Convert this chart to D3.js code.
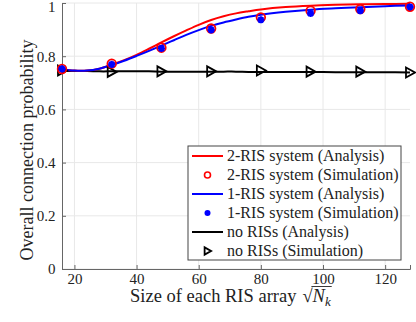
<!DOCTYPE html>
<html>
<head>
<meta charset="utf-8">
<script src="https://cdn.jsdelivr.net/npm/d3@7"></script>
<style>
  body { margin: 0; background: #fff; }
  svg text { fill: #222; }
</style>
</head>
<body>
<div id="chart"></div>
<script>
// analysis curves (sampled along x)
var xAna = [16, 20, 24, 28, 32, 36, 40, 44, 48, 52, 56, 60, 64, 68, 72, 76, 80, 88, 96, 104, 112, 120, 128]
var twoRisAna = [0.751, 0.746, 0.746, 0.753, 0.768, 0.785, 0.805, 0.828, 0.852, 0.875, 0.897, 0.918, 0.936, 0.950, 0.961, 0.969, 0.976, 0.985, 0.990, 0.993, 0.995, 0.996, 0.997]
var oneRisAna = [0.751, 0.746, 0.746, 0.753, 0.767, 0.783, 0.801, 0.820, 0.840, 0.860, 0.880, 0.898, 0.914, 0.927, 0.938, 0.948, 0.956, 0.967, 0.975, 0.980, 0.984, 0.988, 0.991]
var noRisAna = [0.744, 0.744, 0.744, 0.743, 0.743, 0.743, 0.743, 0.743, 0.742, 0.742, 0.742, 0.742, 0.742, 0.742, 0.742, 0.741, 0.741, 0.741, 0.741, 0.740, 0.740, 0.740, 0.739]

// simulation points
var xSim = [16, 32, 48, 64, 80, 96, 112, 128]
var twoRisSim = [0.752, 0.772, 0.832, 0.904, 0.946, 0.971, 0.977, 0.986]
var oneRisSim = [0.752, 0.769, 0.829, 0.899, 0.937, 0.961, 0.971, 0.985]
var noRisSim = [0.746, 0.741, 0.743, 0.743, 0.746, 0.742, 0.742, 0.739]

var xTicks = [20, 40, 60, 80, 100, 120]
var yTicks = [0, 0.2, 0.4, 0.6, 0.8, 1]

var legendLabels = ["2-RIS system (Analysis)", "2-RIS system (Simulation)", "1-RIS system (Analysis)",
  "1-RIS system (Simulation)", "no RISs (Analysis)", "no RISs (Simulation)"]

var FONT = "'Liberation Serif', 'Times New Roman', serif"

var W = 416, H = 322
var margin = {top: 3, right: 6, bottom: 53, left: 62}
var width = W - margin.left - margin.right,
    height = H - margin.top - margin.bottom

var svg = d3.select("#chart").append("svg")
    .attr("width", W)
    .attr("height", H)

var g = svg.append("g")
    .attr("transform", "translate(" + margin.left + "," + margin.top + ")")

var x = d3.scaleLinear().domain([16, 128]).range([0, width])
var y = d3.scaleLinear().domain([0, 1]).range([height, 0])

// grid
g.append("g").selectAll("line").data(xTicks).enter().append("line")
    .attr("x1", function(d) { return x(d) }).attr("x2", function(d) { return x(d) })
    .attr("y1", 0).attr("y2", height)
    .attr("stroke", "#e8e8e8").attr("stroke-width", 1)
g.append("g").selectAll("line").data(yTicks).enter().append("line")
    .attr("y1", function(d) { return y(d) }).attr("y2", function(d) { return y(d) })
    .attr("x1", 0).attr("x2", width)
    .attr("stroke", "#e8e8e8").attr("stroke-width", 1)

// axes
var xAxis = g.append("g")
    .attr("transform", "translate(0," + height + ")")
    .call(d3.axisBottom(x).tickValues(xTicks).tickSize(-4).tickPadding(4))
var yAxis = g.append("g")
    .call(d3.axisLeft(y).tickValues(yTicks).tickSize(-4).tickPadding(6.5)
      .tickFormat(function(d) { return d === 0 || d === 1 ? d : d3.format(".1f")(d) }))

;[xAxis, yAxis].forEach(function(a) {
  a.attr("font-family", FONT).attr("font-size", 15)
  a.select(".domain").attr("stroke", "#666")
  a.selectAll(".tick line").attr("stroke", "#666")
  a.selectAll(".tick text").attr("fill", "#222")
})
// top label sits a bit lower so it isn't clipped
yAxis.selectAll(".tick text").filter(function(d) { return d === 1 }).attr("dy", "0.55em")

// lines
var line = function(vals) {
  return d3.line()
    .x(function(d, i) { return x(xAna[i]) })
    .y(function(d) { return y(d) })
    .curve(d3.curveCatmullRom)(vals)
}

g.append("path").attr("d", line(noRisAna))
    .attr("fill", "none").attr("stroke", "#000").attr("stroke-width", 2)
g.append("path").attr("d", line(twoRisAna))
    .attr("fill", "none").attr("stroke", "#ff0000").attr("stroke-width", 2)
g.append("path").attr("d", line(oneRisAna))
    .attr("fill", "none").attr("stroke", "#0000ff").attr("stroke-width", 2)

// markers
function circle(sel, cx, cy) {
  sel.append("circle").attr("cx", cx).attr("cy", cy).attr("r", 4.3)
    .attr("fill", "none").attr("stroke", "#ff0000").attr("stroke-width", 1.8)
}
function star(sel, cx, cy) {
  var s = 3.6, d = s * 0.72
  var p = "M" + (cx - s) + "," + cy + "H" + (cx + s) +
          "M" + cx + "," + (cy - s) + "V" + (cy + s) +
          "M" + (cx - d) + "," + (cy - d) + "L" + (cx + d) + "," + (cy + d) +
          "M" + (cx - d) + "," + (cy + d) + "L" + (cx + d) + "," + (cy - d)
  sel.append("path").attr("d", p).attr("stroke", "#0000ff").attr("stroke-width", 2.2)
    .attr("fill", "none")
  sel.append("circle").attr("cx", cx).attr("cy", cy).attr("r", 2).attr("fill", "#0000ff")
}
function tri(sel, cx, cy, s) {
  sel.append("path")
    .attr("d", "M" + (cx - s * 0.8) + "," + (cy - s) + "L" + (cx + s) + "," + cy + "L" + (cx - s * 0.8) + "," + (cy + s) + "Z")
    .attr("fill", "none").attr("stroke", "#000").attr("stroke-width", 1.8)
}

var mk = g.append("g")
xSim.forEach(function(v, i) {
  tri(mk, x(v), y(noRisSim[i]), 5)
  circle(mk, x(v), y(twoRisSim[i]))
  star(mk, x(v), y(oneRisSim[i]))
})

// axis labels
g.append("text")
    .attr("transform", "translate(" + (-29) + "," + 147 + ") rotate(-90)")
    .attr("text-anchor", "middle")
    .attr("font-family", FONT).attr("font-size", 18)
    .text("Overall connection probability")

var xlY = height + 33
var x0 = 130 - margin.left
var main = g.append("text").attr("x", x0).attr("y", xlY)
    .attr("font-family", FONT).attr("font-size", 18.5).text("Size of each RIS array")
var x1 = x0 + main.node().getComputedTextLength() + 6
var root = g.append("text").attr("x", x1).attr("y", xlY)
    .attr("font-family", FONT).attr("font-size", 18.5).text("\u221A")
var x2 = x1 + root.node().getComputedTextLength()
var nn = g.append("text").attr("x", x2).attr("y", xlY)
    .attr("font-family", FONT).attr("font-size", 18.5).attr("font-style", "italic").text("N")
var x3 = x2 + nn.node().getComputedTextLength()
var kk = g.append("text").attr("x", x3).attr("y", xlY + 3.5)
    .attr("font-family", FONT).attr("font-size", 13).attr("font-style", "italic").text("k")
var x4 = x3 + kk.node().getComputedTextLength()
g.append("line")
    .attr("x1", x2 - 1.2).attr("x2", x4 + 1)
    .attr("y1", xlY - 15.5).attr("y2", xlY - 15.5)
    .attr("stroke", "#222").attr("stroke-width", 0.9)

// legend
var lx = 188 - margin.left, ly = 146 - margin.top, lw = 213, lh = 114
var leg = g.append("g").attr("transform", "translate(" + lx + "," + ly + ")")
leg.append("rect").attr("width", lw).attr("height", lh)
    .attr("fill", "#fff").attr("stroke", "#444").attr("stroke-width", 1)

legendLabels.forEach(function(t, i) {
  var cy = 10 + i * 19
  if (i === 0 || i === 2 || i === 4) {
    leg.append("line").attr("x1", 4).attr("x2", 35).attr("y1", cy).attr("y2", cy)
      .attr("stroke", ["#ff0000", "#0000ff", "#000"][i / 2]).attr("stroke-width", 2)
  } else if (i === 1) {
    leg.append("circle").attr("cx", 19.5).attr("cy", cy).attr("r", 3)
      .attr("fill", "none").attr("stroke", "#ff0000").attr("stroke-width", 1.6)
  } else if (i === 3) {
    leg.append("circle").attr("cx", 19.5).attr("cy", cy).attr("r", 3).attr("fill", "#0000ff")
  } else {
    tri(leg, 19.5, cy, 3.6)
  }
  leg.append("text").attr("x", 39).attr("y", cy + 5)
    .attr("font-family", FONT).attr("font-size", 16).text(t)
})
</script>
</body>
</html>
